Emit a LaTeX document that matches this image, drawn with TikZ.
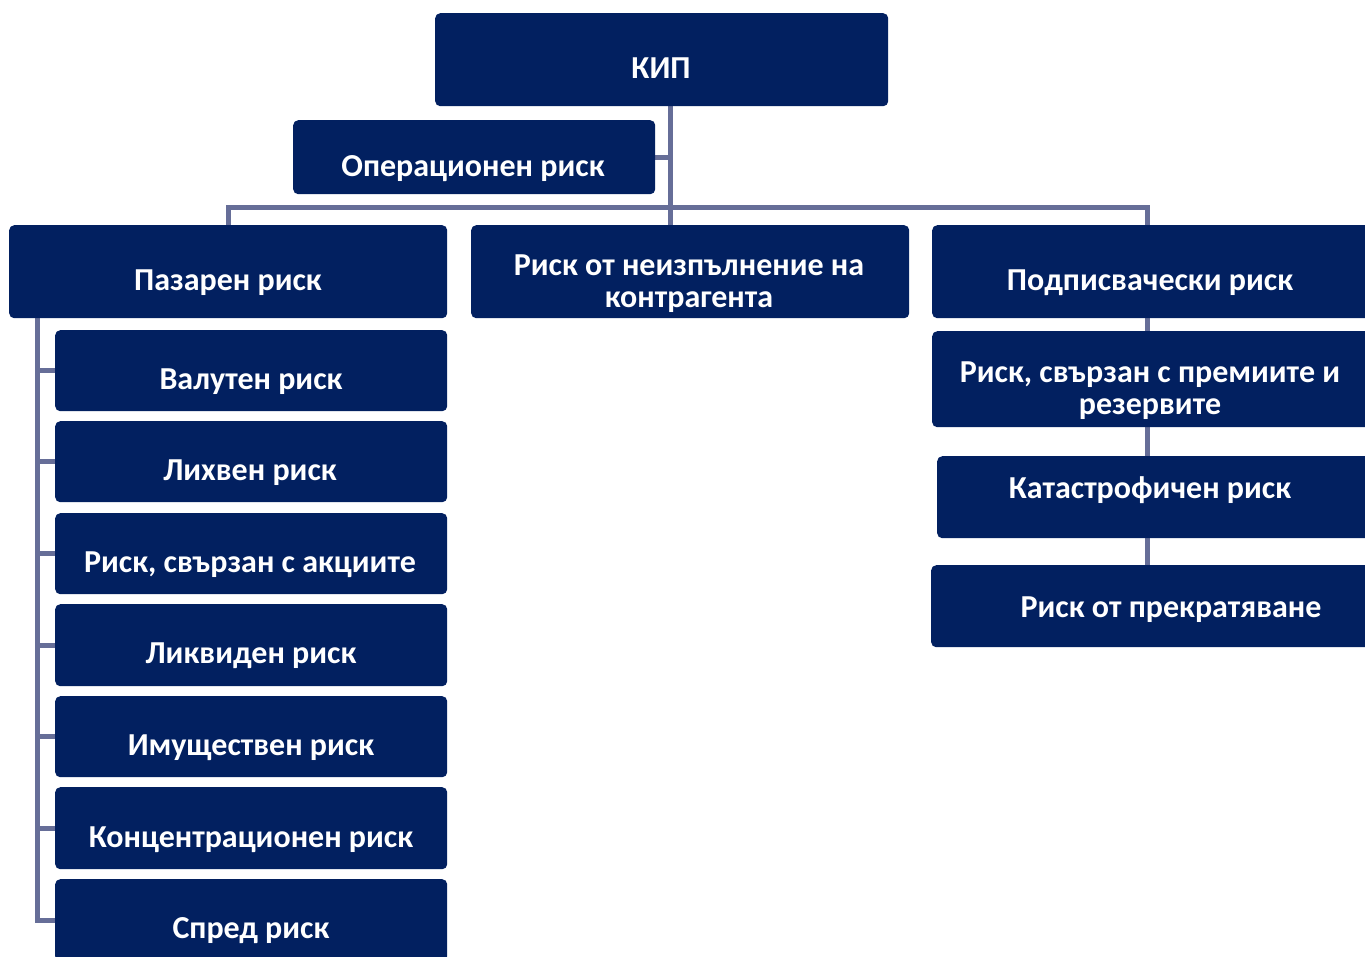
\documentclass[tikz,border=0pt]{standalone}
\usepackage{fontspec}
\setmainfont{Carlito}
\pgfdeclarelayer{bg}
\pgfsetlayers{bg,main}
\definecolor{navy}{RGB}{2,32,96}
\definecolor{conncol}{RGB}{102,110,152}
\tikzset{
  box/.style={rectangle, rounded corners=5pt, fill=navy, draw=none, inner sep=0pt, anchor=north west},
  lbl/.style={text=white, font=\fontsize{32}{32}\selectfont\bfseries, inner sep=0pt, align=center, anchor=base},
  conn/.style={draw=conncol, line width=5pt}
}
\begin{document}
\begin{tikzpicture}[x=1pt,y=-1pt]
\useasboundingbox (0,0) rectangle (1365,956);
\clip (0,0) rectangle (1365,956);
% boxes
\node[box, minimum width=453pt, minimum height=93pt] (kip) at (435,13) {};
\node[lbl] at (661,78) {КИП};
\node[box, minimum width=362pt, minimum height=74pt] (op) at (293,120) {};
\node[lbl] at (473,176) {Операционен риск};
\node[box, minimum width=438pt, minimum height=93pt] (pz) at (9,225) {};
\node[lbl] at (228,290) {Пазарен риск};
\node[box, minimum width=438pt, minimum height=93pt] (ne) at (471,225) {};
\node[lbl] at (689,307) {Риск от неизпълнение на\\контрагента};
\node[box, minimum width=440pt, minimum height=93pt] (pd) at (932,225) {};
\node[lbl] at (1150,290) {Подписвачески риск};
% left children
\node[box, minimum width=392pt, minimum height=81pt] (c1) at (55,330) {};
\node[lbl] at (251,389) {Валутен риск};
\node[box, minimum width=392pt, minimum height=81pt] (c2) at (55,421) {};
\node[lbl] at (250,480) {Лихвен риск};
\node[box, minimum width=392pt, minimum height=81pt] (c3) at (55,513) {};
\node[lbl] at (250,572) {Риск, свързан с акциите};
\node[box, minimum width=392pt, minimum height=82pt] (c4) at (55,604) {};
\node[lbl] at (251,663) {Ликвиден риск};
\node[box, minimum width=392pt, minimum height=81pt] (c5) at (55,696) {};
\node[lbl] at (251,755) {Имуществен риск};
\node[box, minimum width=392pt, minimum height=82pt] (c6) at (55,787) {};
\node[lbl] at (251,847) {Концентрационен риск};
\node[box, minimum width=392pt, minimum height=82pt] (c7) at (55,879) {};
\node[lbl] at (251,938) {Спред риск};
% right children
\node[box, minimum width=440pt, minimum height=96pt] (r1) at (932,331) {};
\node[lbl] at (1150,414) {Риск, свързан с премиите и\\резервите};
\node[box, minimum width=435pt, minimum height=82pt] (r2) at (937,456) {};
\node[lbl] at (1150,498) {Катастрофичен риск};
\node[box, minimum width=441pt, minimum height=82pt] (r3) at (931,565) {};
\node[lbl] at (1171,617) {Риск от прекратяване};
% connector coordinates
\coordinate (hub) at (670,207);
\coordinate (rt) at (1147,207);
\coordinate (lt) at (37,318);
\begin{pgfonlayer}{bg}
\draw[conn] (hub |- kip.south) -- (hub |- ne.north);
\draw[conn] (op.east) -- (op.east -| hub);
\draw[conn] (pz.north) |- (hub) -- (rt) -- (rt |- pd.north);
\draw[conn] (rt |- pd.south) -- (rt |- r3.north);
\draw[conn] (lt |- pz.south) |- (c7.west);
\foreach \c in {c1,c2,c3,c4,c5,c6} {\draw[conn] (lt |- \c.west) -- (\c.west);}
\end{pgfonlayer}
\end{tikzpicture}
\end{document}
